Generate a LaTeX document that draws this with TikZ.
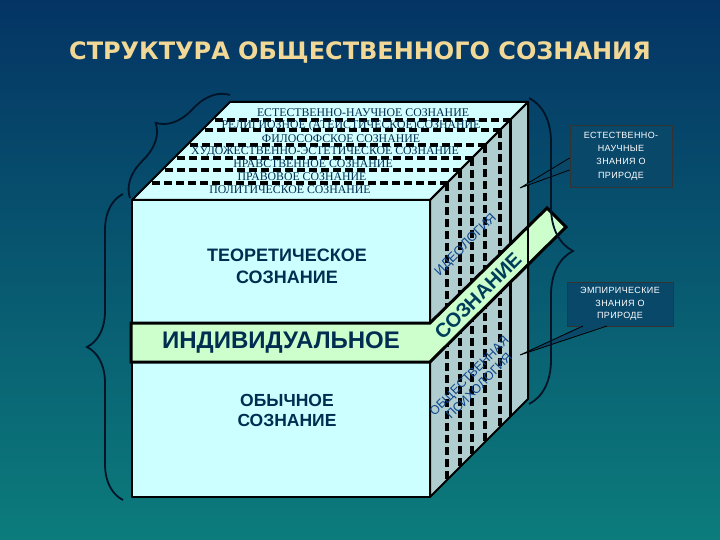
\documentclass[tikz,border=0pt]{standalone}
\usepackage{fontspec}
\setmainfont{Liberation Serif}
\newfontfamily\arialf{Liberation Sans}
\newfontfamily\titlef{DejaVu Sans}
\usetikzlibrary{decorations.pathreplacing}
\definecolor{bgtop}{RGB}{4,52,100}
\definecolor{bgbot}{RGB}{12,124,124}
\definecolor{frontc}{RGB}{204,255,255}
\definecolor{topc}{RGB}{210,255,255}
\definecolor{sidec}{RGB}{176,206,208}
\definecolor{bandc}{RGB}{204,255,204}
\definecolor{inkc}{RGB}{0,45,80}
\definecolor{bluec}{RGB}{15,70,140}
\definecolor{titlec}{RGB}{242,216,150}
\definecolor{boxc}{RGB}{10,72,106}
\definecolor{bracec}{RGB}{0,20,40}
\tikzset{
  edgeline/.style={draw=black,line width=2pt,line join=round},
  dashline/.style={draw=black,line width=3.2pt,dash pattern=on 8pt off 4pt},
  solidline/.style={draw=black,line width=3pt},
  toptext/.style={font=\fontsize{11.8}{11.8}\selectfont,text=inkc,inner sep=0pt},
  fronttext/.style={font=\arialf\bfseries\fontsize{17.5}{22}\selectfont,text=inkc,align=center},
  sidetext/.style={font=\arialf\fontsize{13}{15}\selectfont,text=bluec,align=center,rotate=45,inner sep=0pt},
  boxtext/.style={font=\arialf\fontsize{9}{13.3}\selectfont\addfontfeature{LetterSpace=4},text=white,align=center},
  calloutbox/.style={fill=boxc,draw=black!80,line width=0.8pt},
  bracestyle/.style={draw=bracec,line width=1.8pt,decorate},
}
\begin{document}
\begin{tikzpicture}[x=1pt,y=-1pt]
\useasboundingbox (0,0) rectangle (720,540);
\fill[top color=bgtop,bottom color=bgbot] (0,0) rectangle (720,540);

% title
\node[font=\titlef\bfseries\fontsize{24}{24}\selectfont,text=titlec] (title) at (360,52) {СТРУКТУРА ОБЩЕСТВЕННОГО СОЗНАНИЯ};

% cube corners
\coordinate (FTL) at (132,200);
\coordinate (FTR) at (430,200);
\coordinate (FBR) at (430,497);
\coordinate (FBL) at (132,497);
\coordinate (BTL) at (230,102);
\coordinate (BTR) at (528,102);
\coordinate (BBR) at (528,399);

% faces
\fill[topc] (FTL) -- (FTR) -- (BTR) -- (BTL) -- cycle;
\fill[sidec] (FTR) -- (BTR) -- (BBR) -- (FBR) -- cycle;
\fill[frontc] (FTL) rectangle (FBR);

% top-face and side-face layer lines
\foreach \yy in {120,130,145,158,170,183}{
  \draw[dashline] ({335-\yy},\yy) -- ({630-\yy},\yy);
}
\foreach \yy in {130,145,158,170,183}{
  \draw[dashline] ({630-\yy},\yy) -- ({630-\yy},{297+\yy});
}
\draw[solidline] (510,120) -- (510,417);

% top-face texts
\node[toptext] (t1) at (363,113) {ЕСТЕСТВЕННО-НАУЧНОЕ СОЗНАНИЕ};
\node[toptext] (t2) at (351,126) {РЕЛИГИОЗНОЕ (АТЕИСТИЧЕСКОЕ)СОЗНАНИЕ};
\node[toptext] (t3) at (341,139) {ФИЛОСОФСКОЕ СОЗНАНИЕ};
\node[toptext] (t4) at (325,152) {ХУДОЖЕСТВЕННО-ЭСТЕТИЧЕСКОЕ СОЗНАНИЕ};
\node[toptext] (t5) at (313,164) {НРАВСТВЕННОЕ СОЗНАНИЕ};
\node[toptext] (t6) at (302,177) {ПРАВОВОЕ СОЗНАНИЕ};
\node[toptext] (t7) at (290,190) {ПОЛИТИЧЕСКОЕ СОЗНАНИЕ};

% cube outlines
\draw[edgeline] (FTL) -- (FTR) -- (BTR) -- (BTL) -- cycle;
\draw[edgeline] (FTR) -- (BTR) -- (BBR) -- (FBR) -- cycle;
\draw[edgeline] (FTL) rectangle (FBR);

% side texts
\node[sidetext] (ideo) at (466,245) {ИДЕОЛОГИЯ};
\node[sidetext,font=\arialf\fontsize{12.5}{14}\selectfont] (psych) at (474,381) {ОБЩЕСТВЕННАЯ\\ПСИХОЛОГИЯ};

% band
\coordinate (B1) at (131,323);
\coordinate (B2) at (430,323);
\coordinate (B3) at (547,208);
\coordinate (B4) at (566,227);
\coordinate (B5) at (430,362);
\coordinate (B6) at (131,362);
\draw[fill=bandc,line width=3pt,line join=miter] (B1) -- (B2) -- (B3) -- (B4) -- (B5) -- (B6) -- cycle;
\draw[line width=1.5pt] (528,218) -- (528,265);
\node[font=\arialf\bfseries\fontsize{24}{24}\selectfont,text=inkc] (indiv) at (281,343) {ИНДИВИДУАЛЬНОЕ};
\node[font=\arialf\bfseries\fontsize{20}{20}\selectfont,text=inkc!80!teal,rotate=45] (soz) at (478,296) {СОЗНАНИЕ};

% front-face texts
\node[fronttext,font=\arialf\bfseries\fontsize{18}{22}\selectfont] (theor) at (287,266) {ТЕОРЕТИЧЕСКОЕ\\СОЗНАНИЕ};
\node[fronttext,font=\arialf\bfseries\fontsize{17.5}{20}\selectfont] (obych) at (287,410) {ОБЫЧНОЕ\\СОЗНАНИЕ};

% callout boxes
\node[calloutbox,minimum width=102pt,minimum height=62pt] (box1) at (621,156) {};
\node[boxtext] (box1t) at (box1.center) {ЕСТЕСТВЕННО-\\НАУЧНЫЕ\\ЗНАНИЯ О\\ПРИРОДЕ};
\coordinate (tip1) at (520,188);
\fill[boxc] ([yshift=-1pt]box1.west |- 0,158) -- (tip1) -- ([yshift=1pt]box1.west |- 0,170) -- cycle;
\draw[line width=0.8pt] (box1.west |- 0,158) -- (tip1) -- (box1.west |- 0,170);

\node[calloutbox,minimum width=106pt,minimum height=44pt] (box2) at (620,304) {};
\node[boxtext,font=\arialf\fontsize{9}{12.5}\selectfont\addfontfeature{LetterSpace=4}] (box2t) at (box2.center) {ЭМПИРИЧЕСКИЕ\\ЗНАНИЯ О\\ПРИРОДЕ};
\coordinate (tip2) at (520,355);
\fill[boxc] (583,325) -- (tip2) -- (607,325) -- cycle;
\draw[line width=0.8pt] (583 ,326) -- (tip2) -- (607,326);

% braces
\coordinate (br1a) at (130,198);
\coordinate (br1b) at (230,95);
\draw[bracestyle,decoration={brace,amplitude=34pt}] (br1a) -- (br1b);
\coordinate (br2a) at (123,500);
\coordinate (br2b) at (123,194);
\draw[bracestyle,decoration={brace,amplitude=36pt}] (br2a) -- (br2b);
\coordinate (br3a) at (529,98);
\coordinate (br3b) at (529,404);
\draw[bracestyle,decoration={brace,amplitude=44pt}] (br3a) -- (br3b);
\end{tikzpicture}
\end{document}
